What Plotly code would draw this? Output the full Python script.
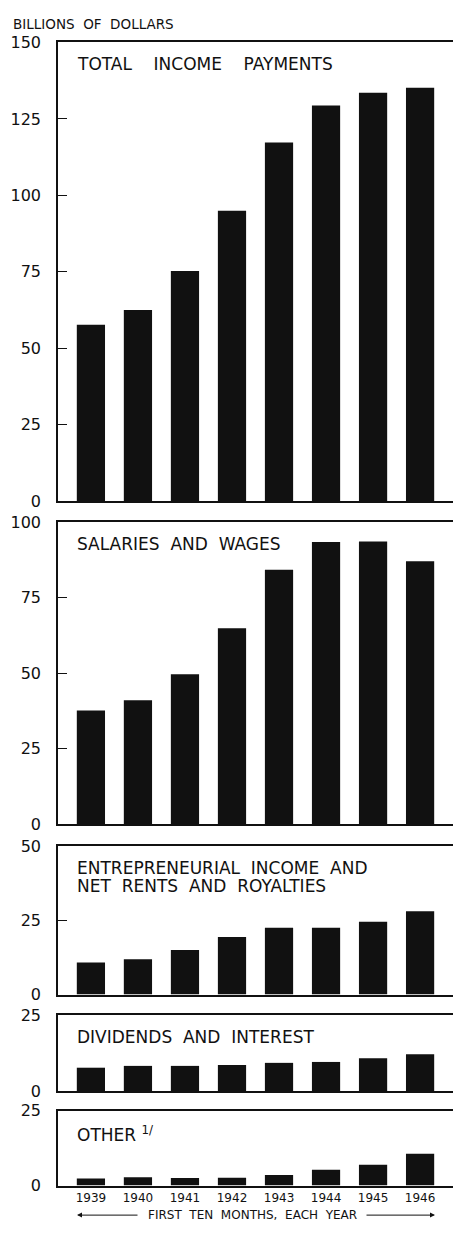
import plotly.graph_objects as go

# ---------------------------------------------------------------------------
# Data (billions of dollars, first ten months of each year)
# ---------------------------------------------------------------------------

years = ["1939", "1940", "1941", "1942", "1943", "1944", "1945", "1946"]

total_income = [57.7, 62.5, 75.3, 95.0, 117.3, 129.4, 133.6, 135.2]
salaries_wages = [37.6, 41.0, 49.6, 64.8, 84.2, 93.4, 93.5, 87.0]
entrepreneurial = [10.8, 11.9, 15.0, 19.4, 22.5, 22.5, 24.5, 28.0]
dividends_interest = [7.7, 8.3, 8.3, 8.6, 9.3, 9.6, 10.8, 12.1]
other = [2.4, 2.8, 2.5, 2.6, 3.5, 5.3, 7.0, 10.6]

series = [total_income, salaries_wages, entrepreneurial, dividends_interest, other]
titles = [
    ["TOTAL    INCOME    PAYMENTS"],
    ["SALARIES  AND  WAGES"],
    ["ENTREPRENEURIAL  INCOME  AND", "NET  RENTS  AND  ROYALTIES"],
    ["DIVIDENDS  AND  INTEREST"],
    ["OTHER <sup>1/</sup>"],
]
y_max = [150, 100, 50, 25, 25]

# ---------------------------------------------------------------------------
# Layout constants (pixels)
# ---------------------------------------------------------------------------

W, H = 453, 1233
L = 58
FONT = "DejaVu Sans"
INK = "#111111"
panel_px = [(34, 500), (521, 828), (850, 1001), (1022, 1099), (1119, 1195)]
N = len(series)


def px_x(x):
    return (x - L) / (W - L)


def px_y(y):
    return 1 - y / H


fig = go.Figure()
layout = dict(
    width=W,
    height=H,
    margin=dict(l=L, r=0, t=0, b=0),
    plot_bgcolor="white",
    paper_bgcolor="white",
    showlegend=False,
    font=dict(family=FONT, size=14, color=INK),
    bargap=0.4,
)

annotations = []
for i, (vals, lines, ymax, (top, bot)) in enumerate(zip(series, titles, y_max, panel_px)):
    n = "" if i == 0 else str(i + 1)
    ticks = list(range(0, ymax + 1, 25))
    fig.add_trace(
        go.Bar(
            x=years,
            y=vals,
            marker=dict(color=INK, line=dict(width=0)),
            xaxis="x" + n,
            yaxis="y" + n,
            hoverinfo="x+y",
        )
    )
    layout["xaxis" + n] = dict(
        domain=[0, 1],
        anchor="y" + n,
        range=[-0.7, 7.7],
        showline=True,
        mirror=True,
        linecolor=INK,
        linewidth=1.5,
        ticks="",
        showticklabels=(i == N - 1),
        tickfont=dict(size=12),
        showgrid=False,
        zeroline=False,
        fixedrange=True,
    )
    layout["yaxis" + n] = dict(
        domain=[px_y(bot), px_y(top)],
        anchor="x" + n,
        range=[0, ymax],
        tickvals=ticks,
        ticks="inside",
        ticklen=9,
        tickwidth=1.2,
        tickcolor=INK,
        showline=True,
        linecolor=INK,
        linewidth=1.5,
        ticklabelstandoff=12,
        tickfont=dict(size=16),
        showgrid=False,
        zeroline=False,
        fixedrange=True,
    )
    # right-hand ticks without a frame line
    layout["yaxis" + str(N + i + 1)] = dict(
        overlaying="y" + n,
        anchor="x" + n,
        side="right",
        range=[0, ymax],
        tickvals=ticks,
        ticks="inside",
        ticklen=9,
        tickwidth=1.2,
        tickcolor=INK,
        showline=False,
        showticklabels=False,
        showgrid=False,
        zeroline=False,
        fixedrange=True,
    )
    for k, line in enumerate(lines):
        annotations.append(
            dict(
                text=line,
                xref="x" + n + " domain",
                yref="y" + n + " domain",
                x=0,
                y=1,
                xanchor="left",
                yanchor="top",
                xshift=17,
                yshift=-10 - 18 * k,
                align="left",
                showarrow=False,
                font=dict(size=17),
            )
        )

annotations += [
    dict(
        text="BILLIONS  OF  DOLLARS",
        xref="paper",
        yref="paper",
        x=px_x(11),
        y=px_y(15),
        xanchor="left",
        yanchor="middle",
        showarrow=False,
        font=dict(size=13.5),
    ),
    dict(
        text="FIRST  TEN  MONTHS,  EACH  YEAR",
        xref="paper",
        yref="paper",
        x=px_x(252),
        y=px_y(1225),
        xanchor="center",
        yanchor="middle",
        showarrow=False,
        font=dict(size=12),
    ),
    # arrows either side of the time-span note
    dict(
        xref="paper", yref="paper",
        x=px_x(77), y=px_y(1225),
        ax=139 - 77, ay=0,
        showarrow=True, arrowhead=2, arrowsize=1, arrowwidth=1, arrowcolor=INK,
        text="",
    ),
    dict(
        xref="paper", yref="paper",
        x=px_x(435), y=px_y(1225),
        ax=-(435 - 365), ay=0,
        showarrow=True, arrowhead=2, arrowsize=1, arrowwidth=1, arrowcolor=INK,
        text="",
    ),
]
layout["annotations"] = annotations

fig.update_layout(**layout)
fig.write_html(
    "out.html",
    config={"displayModeBar": False},
    post_script="document.body.style.margin='0';document.body.style.overflow='hidden';",
)
